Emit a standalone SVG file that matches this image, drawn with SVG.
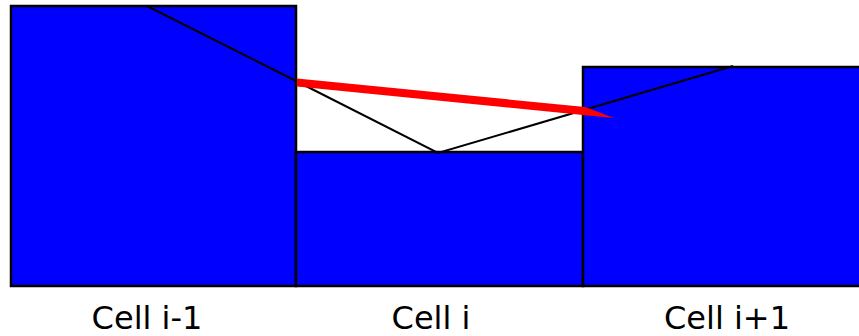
<svg xmlns="http://www.w3.org/2000/svg" width="859" height="336" viewBox="0 0 859 336">
<style>
.cell{fill:#0000ff;stroke:#000;stroke-width:2.5}
.ln{fill:none;stroke:#000;stroke-width:2}
.lbl{font-family:"DejaVu Sans",sans-serif;font-size:32px;fill:#000;text-anchor:middle}
</style>
<rect width="859" height="336" fill="#fff"/>
<g id="cell-im1"><rect class="cell" x="11" y="6" width="285" height="280"/><text class="lbl" x="147" y="329">Cell i-1</text></g>
<g id="cell-i"><rect class="cell" x="296" y="152" width="287" height="134"/><text class="lbl" x="431" y="329">Cell i</text></g>
<g id="cell-ip1"><rect class="cell" x="583" y="67" width="280" height="219"/><text class="lbl" x="727" y="329">Cell i+1</text></g>
<g id="connectors">
<polyline class="ln" points="147,6 296,81 438,153 733,66"/>
<polygon fill="#ff0000" points="297,78.5 585,107 614,118 583,115 297,86.5"/>
</g>
</svg>
